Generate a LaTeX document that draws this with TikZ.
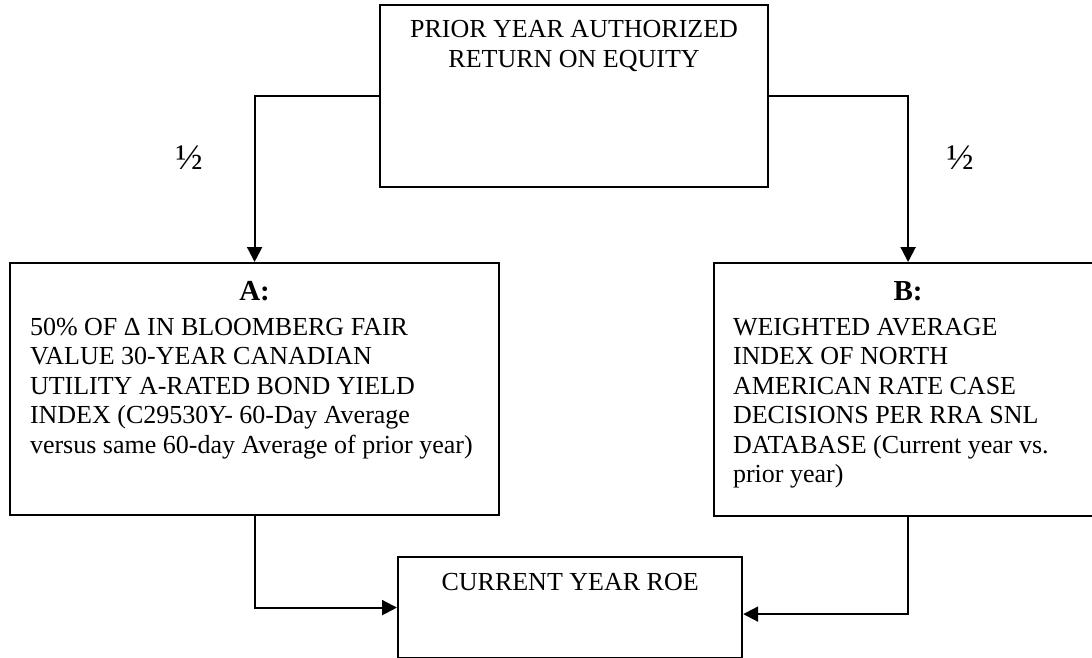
\documentclass[tikz,border=0pt]{standalone}
\usepackage{fontspec}
\setmainfont{Liberation Serif}
\usetikzlibrary{arrows.meta}
\tikzset{
  boxnode/.style={draw=black, line width=2.2pt, rectangle, inner sep=0pt, anchor=north west},
  conn/.style={draw=black, line width=2.1pt, -{Triangle[width=15pt,length=15pt]}},
  txt/.style={inner sep=0pt, outer sep=0pt, text=black},
}
\newcommand\bodyfnt{\fontsize{26}{29.5}\selectfont}
\newcommand\headfnt{\fontsize{29}{35}\selectfont\bfseries}
\begin{document}
\begin{tikzpicture}[x=1pt,y=1pt]
\useasboundingbox (0,0) rectangle (1092,-658);
\clip (0,0) rectangle (1092,-658);
% boxes
\node[boxnode, minimum width=388, minimum height=182] (prior) at (379,-4) {};
\node[boxnode, minimum width=489, minimum height=252] (A) at (9,-262) {};
\node[boxnode, minimum width=388, minimum height=253] (B) at (713,-262) {};
\node[boxnode, minimum width=344, minimum height=101] (cur) at (397,-556) {};
% texts
\node[txt, anchor=base] (ptext) at ([yshift=-34]prior.north)
  {\parbox[t]{388pt}{\centering\bodyfnt PRIOR YEAR AUTHORIZED\\RETURN ON EQUITY}};
\node[txt, anchor=base] (Ahead) at ([yshift=-38]A.north) {\headfnt A:};
\node[txt, anchor=base west] (Abody) at ([xshift=21,yshift=-73]A.north west)
  {\parbox[t]{460pt}{\raggedright\bodyfnt 50\% OF Δ IN BLOOMBERG FAIR\\
   VALUE 30-YEAR CANADIAN\\
   UTILITY A-RATED BOND YIELD\\
   INDEX (C29530Y- 60-Day Average\\
   versus same 60-day Average of prior year)}};
\node[txt, anchor=base] (Bhead) at ([yshift=-38]B.north) {\headfnt B:};
\node[txt, anchor=base west] (Bbody) at ([xshift=20,yshift=-73]B.north west)
  {\parbox[t]{350pt}{\raggedright\bodyfnt WEIGHTED AVERAGE\\
   INDEX OF NORTH\\
   AMERICAN RATE CASE\\
   DECISIONS PER RRA SNL\\
   DATABASE (Current year vs.\\
   prior year)}};
\node[txt, anchor=base] (ctext) at ([yshift=-34]cur.north) {\bodyfnt CURRENT YEAR ROE};
% half labels
\node[txt] (hl) at (189,-157.5) {\fontsize{36}{36}\selectfont ½};
\node[txt] (hr) at (960,-157.5) {\fontsize{36}{36}\selectfont ½};
% connectors
\draw[conn] (prior.west) -| (A.north);
\draw[conn] (prior.east) -| (B.north);
\draw[conn] (A.south) |- (cur.west);
\draw[conn] (B.south) |- ([yshift=-6.5]cur.east);
\end{tikzpicture}
\end{document}
